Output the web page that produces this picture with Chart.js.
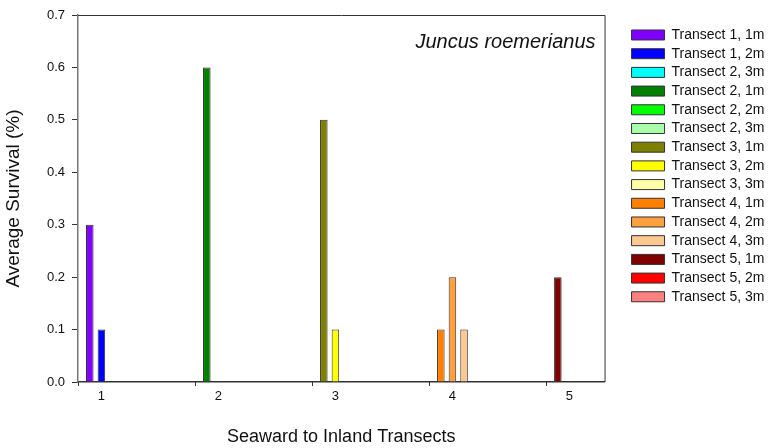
<!DOCTYPE html>
<html>
<head>
<meta charset="utf-8">
<script src="https://cdn.jsdelivr.net/npm/chart.js@4.4.1/dist/chart.umd.min.js"></script>
<style>
  html, body { margin: 0; padding: 0; background: #fff; }
</style>
</head>
<body>
<canvas id="chart" width="770" height="448"></canvas>
<script>
"use strict";

// x positions of the five transects and their labels
const transects = [1, 2, 3, 4, 5];
const xTickLabels = ["1", "2", "3", "4", "5"];
const xMinorTicks = [0.8, 1.8, 2.8, 3.8, 4.8];
const yTickValues = [0, 0.1, 0.2, 0.3, 0.4, 0.5, 0.6, 0.7];

// average survival at 1m, 2m, 3m for each transect
const transect1 = [0.3, 0.1, 0];
const transect2 = [0.6, 0, 0];
const transect3 = [0.5, 0.1, 0];
const transect4 = [0.1, 0.2, 0.1];
const transect5 = [0.2, 0, 0];
const allValues = [transect1, transect2, transect3, transect4, transect5];

const seriesLabels = [
  "Transect 1, 1m", "Transect 1, 2m", "Transect 2, 3m",
  "Transect 2, 1m", "Transect 2, 2m", "Transect 2, 3m",
  "Transect 3, 1m", "Transect 3, 2m", "Transect 3, 3m",
  "Transect 4, 1m", "Transect 4, 2m", "Transect 4, 3m",
  "Transect 5, 1m", "Transect 5, 2m", "Transect 5, 3m"
];

const seriesColors = [
  "#8000ff", "#0000ff", "#00ffff",
  "#008000", "#00ff00", "#aaffaa",
  "#808000", "#ffff00", "#ffffaa",
  "#ff8000", "#ffa040", "#ffc890",
  "#800000", "#ff0000", "#ff8080"
];

const fontFamily = "'Liberation Sans', Arial, sans-serif";

let datasets = [];
for (let t = 0; t < transects.length; t++) {
  for (let d = 0; d < 3; d++) {
    const k = t * 3 + d;
    datasets.push({
      label: seriesLabels[k],
      data: transects.map((x, i) => ({ x: x, y: i === t ? allValues[t][d] : null })),
      backgroundColor: seriesColors[k],
      borderColor: "#333333",
      borderWidth: 1,
      borderSkipped: "start",
      categoryPercentage: 0.2976,
      barPercentage: 0.65,
      skipNull: true,
    });
  }
}

// frame, small x ticks and the species name
const extras = {
  id: "extras",
  afterDraw(chart) {
    const ctx = chart.ctx;
    const area = chart.chartArea;
    const xs = chart.scales.x;
    ctx.save();
    ctx.strokeStyle = "#333333";
    ctx.lineWidth = 1;
    ctx.beginPath();
    ctx.moveTo(area.left, area.top + 0.5);
    ctx.lineTo(area.right + 0.5, area.top + 0.5);
    ctx.lineTo(area.right + 0.5, area.bottom);
    ctx.stroke();

    ctx.beginPath();
    for (let i = 0; i < xMinorTicks.length; i++) {
      const px = Math.round(xs.getPixelForValue(xMinorTicks[i])) + 0.5;
      ctx.moveTo(px, area.bottom);
      ctx.lineTo(px, area.bottom + 4);
    }
    ctx.stroke();

    ctx.fillStyle = "#111111";
    ctx.font = "italic 20px " + fontFamily;
    ctx.textAlign = "right";
    ctx.textBaseline = "alphabetic";
    ctx.fillText("Juncus roemerianus", area.right - 9, area.top + 33);
    ctx.restore();
  }
};

const config = {
  type: "bar",
  data: { datasets: datasets },
  options: {
    responsive: false,
    animation: false,
    layout: { padding: { top: 15, left: 0, right: -4.4, bottom: 0 } },
    scales: {
      x: {
        type: "linear",
        min: 0.8,
        max: 5.3,
        offset: false,
        afterBuildTicks: (s) => { s.ticks = transects.map(v => ({ value: v })); },
        afterFit: (s) => { s.height = 66; },
        grid: { display: false, drawTicks: false, offset: false },
        border: { display: true, color: "#333333", width: 1.5 },
        ticks: {
          padding: 7,
          color: "#111111",
          font: { family: fontFamily, size: 13 },
          callback: (v) => xTickLabels[transects.indexOf(v)],
        },
        title: {
          display: true,
          text: "Seaward to Inland Transects",
          color: "#111111",
          font: { family: fontFamily, size: 18 },
          padding: { top: 0, bottom: 0 },
        },
      },
      y: {
        min: 0,
        max: 0.7,
        afterBuildTicks: (s) => { s.ticks = yTickValues.map(v => ({ value: v })); },
        afterFit: (s) => { s.width = 78; },
        grid: { display: true, drawOnChartArea: false, drawTicks: true, tickLength: 6, color: "#333333" },
        border: { display: true, color: "#777777", width: 1.5 },
        ticks: {
          padding: 7,
          color: "#111111",
          font: { family: fontFamily, size: 13 },
          callback: (v) => v.toFixed(1),
        },
        title: {
          display: true,
          text: "Average Survival (%)",
          color: "#111111",
          font: { family: fontFamily, size: 19 },
          padding: { top: 2, bottom: 0 },
        },
      },
      y2: {
        position: "right",
        display: true,
        afterFit: (s) => { s.width = 22.3; },
        grid: { display: false },
        border: { display: false },
        ticks: { display: false },
      },
    },
    plugins: {
      tooltip: { enabled: false },
      legend: {
        position: "right",
        align: "start",
        maxWidth: 200,
        title: { display: true, text: "", font: { size: 6.9 }, padding: 0 },
        labels: {
          boxWidth: 33,
          boxHeight: 10,
          padding: 4.7,
          color: "#111111",
          font: { family: fontFamily, size: 14 },
        },
      },
    },
  },
  plugins: [extras],
};

const newChart = new Chart(document.getElementById("chart"), config);
</script>
</body>
</html>
